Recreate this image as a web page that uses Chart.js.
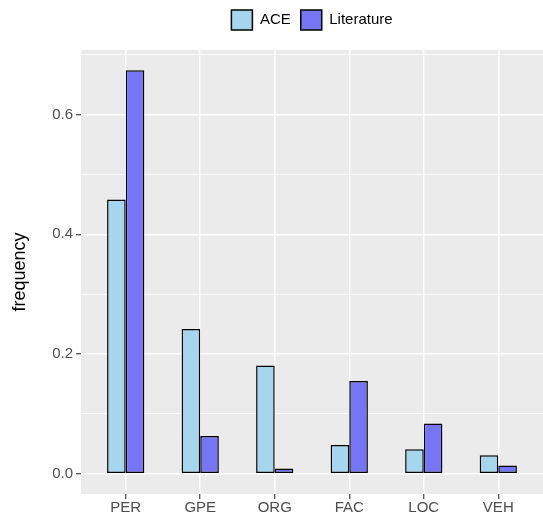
<!DOCTYPE html>
<html><head><meta charset="utf-8">
<style>html,body{margin:0;padding:0;background:#fff}#wrap{width:543px;height:513px}</style>
<script src="https://cdn.jsdelivr.net/npm/chart.js@4/dist/chart.umd.min.js"></script>
</head><body><div id="wrap"><canvas id="c" width="543" height="513"></canvas></div>
<script>
const categories = ['PER', 'GPE', 'ORG', 'FAC', 'LOC', 'VEH'];
const aceValues = [0.458, 0.242, 0.181, 0.048, 0.041, 0.031];
const literatureValues = [0.674, 0.063, 0.009, 0.155, 0.084, 0.014];
const yTickValues = [0, 0.1, 0.2, 0.3, 0.4, 0.5, 0.6, 0.7];
const yMajorTicks = [0, 0.2, 0.4, 0.6];
const seriesNames = ['ACE', 'Literature'];

const maxVal = Math.max(...aceValues, ...literatureValues);
const yMin = -0.05 * maxVal;
const yMax = maxVal * 1.05;
const isMajor = v => yMajorTicks.some(m => Math.abs(m - v) < 1e-9);

Chart.defaults.font.family = "'Liberation Sans', Arial, sans-serif";

const panelBg = {
  id: 'panelBg',
  beforeDraw(chart) {
    const {ctx, chartArea: a} = chart;
    ctx.save();
    ctx.fillStyle = '#EBEBEB';
    ctx.fillRect(a.left, a.top, a.right - a.left, a.bottom - a.top);
    ctx.restore();
  }
};
const legendGap = {
  id: 'legendGap',
  beforeInit(chart) {
    if (chart.legend) {
      const orig = chart.legend.fit;
      chart.legend.fit = function () { orig.call(this); this.height += 10; };
    }
  }
};

new Chart(document.getElementById('c'), {
  type: 'bar',
  data: {
    datasets: [
      {
        label: seriesNames[0],
        data: aceValues.map((v, i) => ({x: i, y: v})),
        backgroundColor: '#A5D6EE',
        borderColor: '#000000',
        borderWidth: 1.5,
        borderSkipped: false,
        categoryPercentage: 0.5,
        barPercentage: 1
      },
      {
        label: seriesNames[1],
        data: literatureValues.map((v, i) => ({x: i, y: v})),
        backgroundColor: '#7575F5',
        borderColor: '#000000',
        borderWidth: 1.5,
        borderSkipped: false,
        categoryPercentage: 0.5,
        barPercentage: 1
      }
    ]
  },
  options: {
    responsive: false,
    animation: false,
    layout: {padding: 0},
    plugins: {
      tooltip: {enabled: false},
      legend: {
        position: 'top',
        align: 'center',
        fullSize: false,
        labels: {
          boxWidth: 21,
          boxHeight: 20,
          padding: 10,
          color: '#000000',
          font: {size: 15}
        }
      }
    },
    scales: {
      x: {
        type: 'linear',
        min: -0.6,
        max: categories.length - 0.4,
        offset: false,
        bounds: 'data',
        afterBuildTicks: s => { s.ticks = categories.map((c, i) => ({value: i})); },
        afterFit: s => { s.height = 19; },
        ticks: {
          callback: v => categories[v] ?? '',
          color: '#4D4D4D',
          font: {size: 15},
          padding: 0,
          autoSkip: false,
          maxRotation: 0
        },
        grid: {
          color: '#FFFFFF',
          lineWidth: 1.5,
          tickColor: '#333333',
          tickLength: 5,
          tickWidth: 1.1,
          offset: false
        },
        border: {display: false}
      },
      y: {
        type: 'linear',
        min: yMin,
        max: yMax,
        afterBuildTicks: s => { s.ticks = yTickValues.map(v => ({value: v})); },
        afterFit: s => { s.width = 81; },
        ticks: {
          callback: v => isMajor(v) ? v.toFixed(1) : '',
          color: '#4D4D4D',
          font: {size: 15},
          padding: 3,
          autoSkip: false
        },
        grid: {
          color: '#FFFFFF',
          lineWidth: ctx => isMajor(ctx.tick.value) ? 1.5 : 0.8,
          tickColor: ctx => isMajor(ctx.tick.value) ? '#333333' : 'rgba(0,0,0,0)',
          tickLength: 5,
          tickWidth: 1.1
        },
        border: {display: false},
        title: {
          display: true,
          text: 'frequency',
          color: '#000000',
          font: {size: 18},
          padding: {top: 9, bottom: 0}
        }
      }
    }
  },
  plugins: [panelBg, legendGap]
});
</script>
</body></html>
